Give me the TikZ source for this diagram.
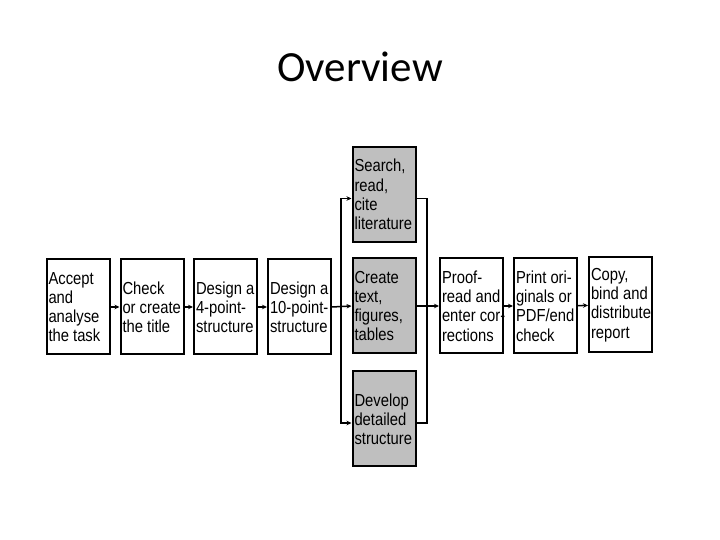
\documentclass[tikz,border=0pt]{standalone}
\usepackage{fontspec}
\setmainfont{Liberation Sans}
\newfontfamily\titlefont{Carlito}
\newfontfamily\boxfont[FakeStretch=0.85]{Liberation Sans}
\usetikzlibrary{arrows.meta}

\begin{document}
\begin{tikzpicture}[x=1bp,y=1bp,
  stepbox/.style={draw,line width=2bp,text width=59bp,inner xsep=2bp,
    minimum height=95bp,align=flush left,
    font=\boxfont\fontsize{17.4bp}{19.2bp}\selectfont},
  graybox/.style={stepbox,fill=gray!50},
  flow/.style={line width=1.5bp,-{Stealth[length=5bp,width=4.5bp]}},
  mergeline/.style={line width=1.5bp}]
\useasboundingbox (0,0) rectangle (720,540);
\node[anchor=base,font=\titlefont\fontsize{43bp}{50bp}\selectfont] (title) at (360,458) {Overview};

\node[stepbox] (accept) at (78,233) {Accept\\and\\analyse\\the~task};
\node[stepbox] (check) at (152,233) {Check\\or~create\\the~title};
\node[stepbox] (four) at (225.5,233) {Design~a\\\mbox{4-point-}\\structure};
\node[stepbox] (ten) at (299.5,233) {Design~a\\\mbox{10-point-}\\structure};

\node[graybox] (search) at (384,345.5) {Search,\\read,\\cite\\literature};
\node[graybox] (create) at (384,234) {Create\\text,\\figures,\\tables};
\node[graybox] (develop) at (384,121) {Develop\\detailed\\structure};

\node[stepbox] (proof) at (471.5,234) {Proof-\\read~and\\\mbox{enter cor-}\\rections};
\node[stepbox] (print) at (545.5,234) {\mbox{Print ori-}\\ginals~or\\PDF/end\\check};
\node[stepbox] (copy) at (620.5,235) {Copy,\\bind~and\\distribute\\report};

\draw[flow] (accept) -- (check);
\draw[flow] (check) -- (four);
\draw[flow] (four) -- (ten);

% split and merge round the gray column
\coordinate (split) at (341,233);
\coordinate (merge) at (427,233);
\draw[flow] (ten.east) -- (create.west);
\draw[flow] (split) |- ([yshift=-4bp]search.west);
\draw[flow] (split) |- ([yshift=-4bp]develop.west);
\draw[mergeline] ([yshift=-4bp]search.east) -| (merge);
\draw[mergeline] ([yshift=-4bp]develop.east) -| (merge);
\draw[flow] (create.east) -- (proof.west);

\draw[flow] (proof) -- (print);
\draw[flow] (print) -- (copy);
\end{tikzpicture}
\end{document}
